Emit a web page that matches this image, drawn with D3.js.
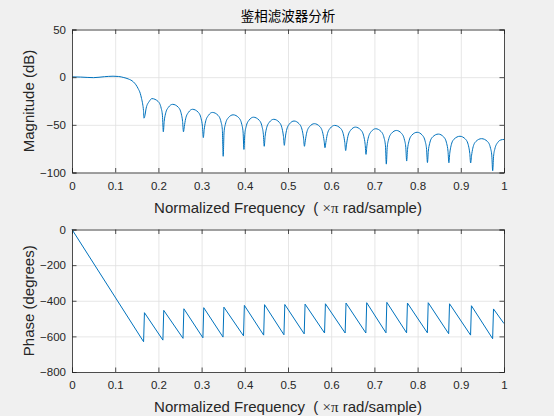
<!DOCTYPE html>
<html><head><meta charset="utf-8">
<script src="https://cdn.jsdelivr.net/npm/d3@7/dist/d3.min.js"></script>
<style>
body{margin:0;background:#f0f0f0;}
svg{display:block;}
.tick text{font-family:"Liberation Sans",Arial,sans-serif;font-size:11.5px;fill:#262626;}
.lbl{white-space:pre;}
</style></head>
<body>
<svg id="chart" width="554" height="416"></svg>
<script>
// ---- data ----
const titleText = "鉴相滤波器分析";
const freqTicks = [0, 0.1, 0.2, 0.3, 0.4, 0.5, 0.6, 0.7, 0.8, 0.9, 1];
const freqTickLabels = ["0", "0.1", "0.2", "0.3", "0.4", "0.5", "0.6", "0.7", "0.8", "0.9", "1"];
const magTicks = [-100, -50, 0, 50];
const phaseTicks = [-800, -600, -400, -200, 0];

// magnitude response [normalized frequency, dB]
const magnitudeDb = [
  [0,0.3],[0.02,0.1],[0.05,-0.5],[0.075,0.5],[0.095,1.0],[0.108,0.7],[0.12,-0.4],[0.13,-1.8],
  [0.142,-4.9],[0.148,-8],[0.153,-11.9],[0.158,-17],[0.161,-22.4],[0.1635,-28],[0.1655,-35],
  [0.1667,-43],
  [0.1687,-40.5],[0.1717,-32.5],[0.1787,-25.5],[0.185,-22.5],[0.1994,-25.5],[0.2064,-32.5],[0.2094,-40.5],
  [0.2114,-57.3],
  [0.2134,-46.5],[0.2164,-38.5],[0.2234,-31.5],[0.233,-28.5],[0.246,-31.5],[0.253,-38.5],[0.256,-46.5],
  [0.258,-57.3],
  [0.260,-51.7],[0.263,-43.7],[0.270,-36.7],[0.279,-33.7],[0.292,-36.7],[0.299,-43.7],[0.302,-51.7],
  [0.304,-63.4],
  [0.306,-55],[0.309,-47],[0.316,-40],[0.325,-37],[0.338,-40],[0.345,-47],[0.348,-55],
  [0.350,-83],
  [0.352,-57.5],[0.355,-49.5],[0.362,-42.5],[0.373,-39.5],[0.386,-42.5],[0.393,-49.5],[0.396,-57.5],
  [0.398,-75.8],
  [0.400,-60],[0.403,-52],[0.410,-45],[0.420,-42],[0.433,-45],[0.440,-52],[0.443,-60],
  [0.445,-72.5],
  [0.447,-62.2],[0.450,-54.2],[0.457,-47.2],[0.467,-44.2],[0.4795,-47.2],[0.4865,-54.2],[0.4895,-62.2],
  [0.4915,-71.5],
  [0.4935,-64],[0.4965,-56],[0.5035,-49],[0.514,-46],[0.526,-49],[0.533,-56],[0.536,-64],
  [0.538,-72.5],
  [0.540,-66.8],[0.543,-58.8],[0.550,-51.8],[0.561,-48.8],[0.5736,-51.8],[0.5806,-58.8],[0.5836,-66.8],
  [0.5856,-74],
  [0.5876,-68.6],[0.5906,-60.6],[0.5976,-53.6],[0.608,-50.6],[0.6215,-53.6],[0.6285,-60.6],[0.6315,-68.6],
  [0.6335,-77],
  [0.6355,-70.4],[0.6385,-62.4],[0.6455,-55.4],[0.656,-52.4],[0.6686,-55.4],[0.6756,-62.4],[0.6786,-70.4],
  [0.6806,-81],
  [0.6826,-72.1],[0.6856,-64.1],[0.6926,-57.1],[0.703,-54.1],[0.7156,-57.1],[0.7226,-64.1],[0.7256,-72.1],
  [0.7276,-91.2],
  [0.7296,-73.9],[0.7326,-65.9],[0.7396,-58.9],[0.751,-55.9],[0.7627,-58.9],[0.7697,-65.9],[0.7727,-73.9],
  [0.7747,-88],
  [0.7767,-75.8],[0.7797,-67.8],[0.7867,-60.8],[0.799,-57.8],[0.8108,-60.8],[0.8178,-67.8],[0.8208,-75.8],
  [0.8228,-89.6],
  [0.8248,-77.7],[0.8278,-69.7],[0.8348,-62.7],[0.848,-59.7],[0.8604,-62.7],[0.8674,-69.7],[0.8704,-77.7],
  [0.8724,-89.8],
  [0.8744,-80],[0.8774,-72],[0.8844,-65],[0.898,-62],[0.9108,-65],[0.9178,-72],[0.9208,-80],
  [0.9228,-90],
  [0.9248,-82.5],[0.9278,-74.5],[0.9348,-67.5],[0.948,-64.5],[0.9618,-67.5],[0.9688,-74.5],[0.9718,-82.5],
  [0.9738,-98.2],
  [0.9758,-83.3],[0.9788,-75.3],[0.9858,-68.3],[0.993,-65.8],[1.0,-65.3]
];

// phase response [normalized frequency, degrees]
const phaseDeg = [
  [0,0],[0.1657,-630],[0.1677,-467],[0.2104,-621],[0.2124,-454],[0.257,-611],[0.259,-445],
  [0.303,-608],[0.305,-439],[0.3496,-604],[0.3516,-436],[0.397,-597],[0.399,-426],
  [0.4437,-593],[0.4457,-422],[0.4906,-591],[0.4926,-421],[0.5375,-586],[0.5395,-419],
  [0.5846,-581],[0.5866,-417],[0.6323,-581],[0.6343,-413],[0.6802,-581],[0.6822,-411],
  [0.7268,-580],[0.7288,-409],[0.7745,-580],[0.7765,-413],[0.8226,-580],[0.8246,-411],
  [0.8719,-585],[0.8739,-417],[0.9226,-593],[0.9246,-428],[0.9737,-613],[0.9757,-446],
  [1.0,-528]
];

// ---- drawing ----
const svg = d3.select("#chart");
const FONT = '"Liberation Sans", Arial, sans-serif';
const LINE = "#0072BD", AX = "#262626", GRID = "#dfdfdf";

const x = d3.scaleLinear().domain([0, 1]).range([72, 504]);

svg.append("text")
  .attr("x", 288).attr("y", 21)
  .attr("text-anchor", "middle")
  .style("font-family", '"Noto Sans CJK SC", sans-serif')
  .style("font-size", "13.5px").style("fill", "#000")
  .text(titleText);

function panel(y, yTicks, data, yLabel, curve) {
  const [yb, yt] = y.range();
  const g = svg.append("g");
  g.append("rect").attr("x", x(0)).attr("y", yt)
    .attr("width", x(1) - x(0)).attr("height", yb - yt).attr("fill", "#fff");

  // grid
  g.append("g").attr("transform", `translate(0,${yb})`)
    .call(d3.axisBottom(x).tickValues(freqTicks).tickSize(-(yb - yt)).tickFormat(""))
    .call(s => s.select(".domain").remove())
    .call(s => s.selectAll("line").attr("stroke", GRID).attr("stroke-width", 0.8));
  g.append("g").attr("transform", `translate(${x(0)},0)`)
    .call(d3.axisLeft(y).tickValues(yTicks).tickSize(-(x(1) - x(0))).tickFormat(""))
    .call(s => s.select(".domain").remove())
    .call(s => s.selectAll("line").attr("stroke", GRID).attr("stroke-width", 0.8));

  // data line
  g.append("path").datum(data)
    .attr("fill", "none").attr("stroke", LINE).attr("stroke-width", 1)
    .attr("stroke-linejoin", "round")
    .attr("d", d3.line().x(d => x(d[0])).y(d => y(d[1])).curve(curve));

  // axes with inward ticks
  const tick = 4.5;
  const bx = g.append("g").attr("transform", `translate(0,${yb})`)
    .call(d3.axisBottom(x).tickValues(freqTicks).tickSize(-tick).tickPadding(8)
      .tickFormat((d, i) => freqTickLabels[i]));
  g.append("g").attr("transform", `translate(0,${yt})`)
    .call(d3.axisTop(x).tickValues(freqTicks).tickSize(-tick).tickFormat(""));
  const ly = g.append("g").attr("transform", `translate(${x(0)},0)`)
    .call(d3.axisLeft(y).tickValues(yTicks).tickSize(-tick).tickPadding(6).tickFormat(d3.format("d")));
  g.append("g").attr("transform", `translate(${x(1)},0)`)
    .call(d3.axisRight(y).tickValues(yTicks).tickSize(-tick).tickFormat(""));
  g.selectAll(".domain").attr("stroke", AX).attr("stroke-width", 0.8);
  g.selectAll(".tick line").filter(function(){ return d3.select(this).attr("stroke") !== GRID; })
    .attr("stroke", AX).attr("stroke-width", 0.8);
  bx.selectAll(".tick text").attr("dy", "0.71em").attr("y", 9);
  ly.selectAll(".tick text").attr("x", -6);

  // x label
  const xl = g.append("text").attr("class", "lbl")
    .attr("x", 288).attr("y", yb + 40)
    .attr("text-anchor", "middle")
    .style("font-family", FONT).style("font-size", "15px").style("fill", AX);
  xl.append("tspan").text("Normalized Frequency  ( ");
  xl.append("tspan").style("font-family", '"Liberation Serif","DejaVu Serif",serif').text("×π");
  xl.append("tspan").text(" rad/sample)");

  // y label
  g.append("text")
    .attr("transform", `translate(34,${(yb + yt) / 2}) rotate(-90)`)
    .attr("text-anchor", "middle")
    .style("font-family", FONT).style("font-size", "15px").style("fill", AX)
    .text(yLabel);
}

const yMag = d3.scaleLinear().domain([-100, 50]).range([172.5, 29.5]);
const yPh = d3.scaleLinear().domain([-800, 0]).range([372, 229.5]);

panel(yMag, magTicks, magnitudeDb, "Magnitude (dB)", d3.curveMonotoneX);
panel(yPh, phaseTicks, phaseDeg, "Phase (degrees)", d3.curveLinear);
</script>
</body></html>
